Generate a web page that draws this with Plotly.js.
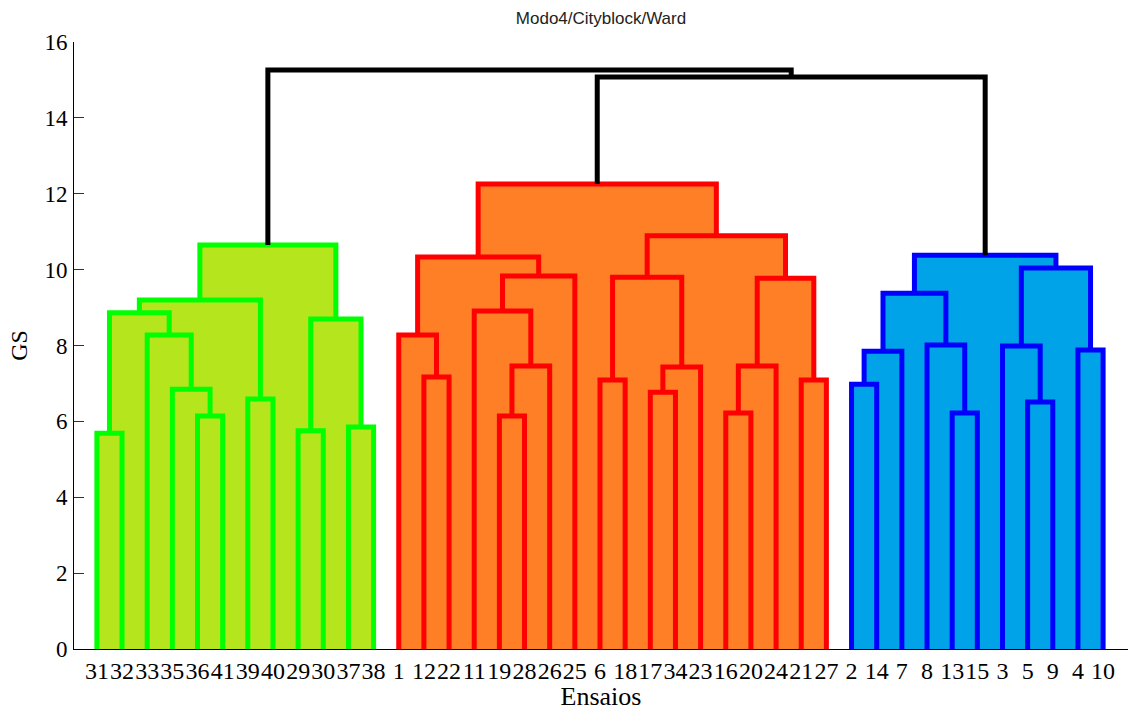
<!DOCTYPE html>
<html>
<head>
<meta charset="utf-8">
<script src="https://cdn.plot.ly/plotly-3.0.1.min.js"></script>
<style>html,body{margin:0;padding:0;background:#fff;}#chart{width:1129px;height:711px;}</style>
</head>
<body>
<div id="chart"></div>
<script>
// Leaf order as drawn along the x axis (tick labels)
const leafOrder = [31,32,33,35,36,41,39,40,29,30,37,38,
                   1,12,22,11,19,28,26,25,6,18,17,34,23,16,20,24,21,27,
                   2,14,7,8,13,15,3,5,9,4,10];
// Linkage (MATLAB style): leaves 1..41, merged clusters numbered 42, 43, ... in this order
const mergeA = [31,36,35,33,42,39,46,29,37,49,48,
                12,1,19,55,11,57,54,6,17,61,60,16,64,21,65,63,59,
                2,70,13,8,71,5,3,4,76,74,
                69,52];
const mergeB = [32,41,43,44,45,40,47,30,38,50,51,
                22,53,28,26,56,25,58,18,34,23,62,20,24,27,66,67,68,
                14,7,15,72,73,9,75,10,77,78,
                79,80];
const mergeHeight = [5.69,6.14,6.85,8.28,8.86,6.59,9.20,5.75,5.85,8.70,10.65,
                     7.17,8.28,6.14,7.46,8.91,9.83,10.33,7.09,6.77,7.43,9.80,6.22,7.46,7.09,9.77,10.89,12.26,
                     6.98,7.85,6.22,8.01,9.38,6.51,7.99,7.88,10.04,10.38,
                     15.08,15.26];
const colorThreshold = 13;
const groupLine = ['#00ff00', '#ff0000', '#0000ff'];
const groupFill = ['#b5e61d', '#ff7f27', '#00a2e8'];
const aboveLine = '#000000';

const nLeaves = leafOrder.length;
const xPos = {}, yPos = {};
leafOrder.forEach((leaf, i) => { xPos[leaf] = i + 1; yPos[leaf] = 0; });
mergeA.forEach((a, i) => {
  const id = nLeaves + 1 + i;
  xPos[id] = (xPos[a] + xPos[mergeB[i]]) / 2;
  yPos[id] = mergeHeight[i];
});
const parentOf = {};
mergeA.forEach((a, i) => { const id = nLeaves + 1 + i; parentOf[a] = id; parentOf[mergeB[i]] = id; });
function rootBelow(id) {
  let cur = id;
  while (parentOf[cur] !== undefined && yPos[parentOf[cur]] < colorThreshold) cur = parentOf[cur];
  return cur;
}
const roots = [];
mergeA.forEach((a, i) => {
  const id = nLeaves + 1 + i;
  if (mergeHeight[i] < colorThreshold) {
    const r = rootBelow(id);
    if (!roots.includes(r)) roots.push(r);
  }
});
roots.sort((p, q) => xPos[p] - xPos[q]);

const fillTraces = [];
const lineX = {}, lineY = {};
mergeA.forEach((a, i) => {
  const b = mergeB[i], h = mergeHeight[i];
  const xa = xPos[a], xb = xPos[b];
  let key = 'black', g = -1;
  if (h < colorThreshold) { g = roots.indexOf(rootBelow(nLeaves + 1 + i)); key = 'g' + g; }
  if (g >= 0) {
    fillTraces.push({
      type: 'scatter', mode: 'lines', x: [xa, xa, xb, xb, xa], y: [0, h, h, 0, 0],
      fill: 'toself', fillcolor: groupFill[g], line: {width: 0}, hoverinfo: 'skip', showlegend: false
    });
  }
  if (!lineX[key]) { lineX[key] = []; lineY[key] = []; }
  lineX[key].push(xa, xa, xb, xb, null);
  lineY[key].push(yPos[a], h, h, yPos[b], null);
});
const lineTraces = Object.keys(lineX).map(k => ({
  type: 'scatter', mode: 'lines', x: lineX[k], y: lineY[k],
  line: {color: k === 'black' ? aboveLine : groupLine[+k.slice(1)], width: 5},
  hoverinfo: 'skip', showlegend: false, cliponaxis: false
}));

const serif = 'Liberation Serif, Times New Roman, serif';
const layout = {
  width: 1129, height: 711,
  margin: {l: 74, r: 1, t: 42, b: 62},
  paper_bgcolor: '#ffffff', plot_bgcolor: '#ffffff',
  showlegend: false,
  title: {text: 'Modo4/Cityblock/Ward', font: {family: 'Liberation Sans, Arial, sans-serif', size: 17, color: '#222'},
          x: 0.5, xref: 'paper', xanchor: 'center', y: 0.975, yref: 'container', yanchor: 'middle'},
  xaxis: {
    range: [0.09, 41.99], showgrid: false, zeroline: false,
    showline: true, linecolor: '#000', linewidth: 1,
    tickmode: 'array', tickvals: leafOrder.map((_, i) => i + 1), ticktext: leafOrder.map(String),
    ticks: '', tickangle: 0,
    tickfont: {family: serif, size: 24, color: '#000'},
    title: {text: 'Ensaios', font: {family: serif, size: 26, color: '#000'}, standoff: 0},
    automargin: false
  },
  yaxis: {
    range: [0, 16], dtick: 2, showgrid: false, zeroline: false,
    showline: true, linecolor: '#000', linewidth: 1,
    ticks: 'inside', ticklen: 10, tickcolor: '#333', tickwidth: 1,
    ticklabelstandoff: 1,
    tickfont: {family: serif, size: 23, color: '#000'},
    title: {text: 'GS', font: {family: serif, size: 24, color: '#000'}, standoff: 10},
    automargin: false
  }
};

Plotly.newPlot('chart', fillTraces.concat(lineTraces), layout, {staticPlot: true, displayModeBar: false});
</script>
</body>
</html>
